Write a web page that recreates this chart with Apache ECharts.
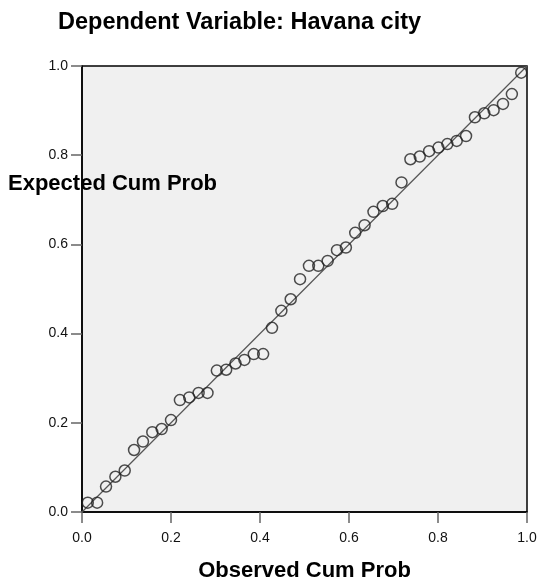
<!DOCTYPE html>
<html>
<head>
<meta charset="utf-8">
<script src="https://cdn.jsdelivr.net/npm/echarts@6/dist/echarts.min.js"></script>
<style>html,body{margin:0;padding:0;background:#fff;}#c{width:541px;height:578px;}</style>
</head>
<body>
<div id="c"></div>
<script>
var titleText = 'Dependent Variable: Havana city';
var xName = 'Observed Cum Prob';
var yName = 'Expected Cum Prob';
var tickValues = [0, 0.2, 0.4, 0.6, 0.8, 1.0];
var observed = [0.013,0.034,0.054,0.075,0.096,0.117,0.137,0.158,0.179,0.200,0.220,0.241,0.262,0.282,0.303,0.324,0.345,0.365,0.386,0.407,0.427,0.448,0.469,0.490,0.510,0.531,0.552,0.573,0.593,0.614,0.635,0.655,0.676,0.697,0.718,0.738,0.759,0.780,0.801,0.821,0.842,0.863,0.883,0.904,0.925,0.946,0.966,0.987];
var expected = [0.021,0.021,0.057,0.079,0.093,0.139,0.158,0.179,0.186,0.206,0.251,0.257,0.267,0.267,0.317,0.319,0.333,0.341,0.354,0.354,0.413,0.451,0.477,0.522,0.552,0.552,0.563,0.587,0.593,0.626,0.643,0.673,0.686,0.691,0.739,0.791,0.797,0.809,0.817,0.825,0.832,0.843,0.885,0.894,0.901,0.915,0.937,0.985];
var refLine = [[0, 0], [1, 1]];

var pts = observed.map(function (x, i) { return [x, expected[i]]; });
var chart = echarts.init(document.getElementById('c'));
var FF = 'Liberation Sans, Arial, sans-serif';
var axisCommon = {
  type: 'value', min: 0, max: 1, interval: 0.2,
  axisLine: { show: true, lineStyle: { color: '#000', width: 1.5 } },
  axisTick: { show: true, length: 11, lineStyle: { color: '#666', width: 1.5 } },
  splitLine: { show: false },
  axisLabel: { color: '#111', fontSize: 14, fontFamily: FF,
    formatter: function (v) { return v.toFixed(1); } }
};
chart.setOption({
  animation: false,
  backgroundColor: '#fff',
  title: {
    text: titleText, left: 53, top: 6,
    textStyle: { fontSize: 23.5, fontWeight: 'bold', color: '#000', fontFamily: FF }
  },
  grid: { left: 82, right: 14, top: 66, bottom: 66, outerBoundsMode: 'none', containLabel: false,
    show: true, backgroundColor: '#f0f0f0', borderColor: '#000', borderWidth: 1.5 },
  xAxis: Object.assign({}, axisCommon, {
    axisLabel: Object.assign({}, axisCommon.axisLabel, { margin: 19 }),
    name: xName, nameLocation: 'middle', nameGap: 48,
    nameTextStyle: { fontSize: 22, fontWeight: 'bold', color: '#000', fontFamily: FF }
  }),
  yAxis: Object.assign({}, axisCommon, {
    axisLabel: Object.assign({}, axisCommon.axisLabel, { margin: 14 })
  }),
  graphic: [{
    type: 'text', left: 8, top: 173, z: 1,
    style: { text: yName, fontSize: 22, fontWeight: 'bold', fill: '#000', fontFamily: FF }
  }],
  series: [
    { type: 'line', data: refLine, symbol: 'none', lineStyle: { color: '#555', width: 1.2 }, z: 2, silent: true },
    { type: 'scatter', data: pts, symbol: 'circle', symbolSize: 11,
      itemStyle: { color: 'rgba(0,0,0,0)', borderColor: '#222', borderWidth: 1.5 }, z: 3 }
  ]
});
</script>
</body>
</html>
